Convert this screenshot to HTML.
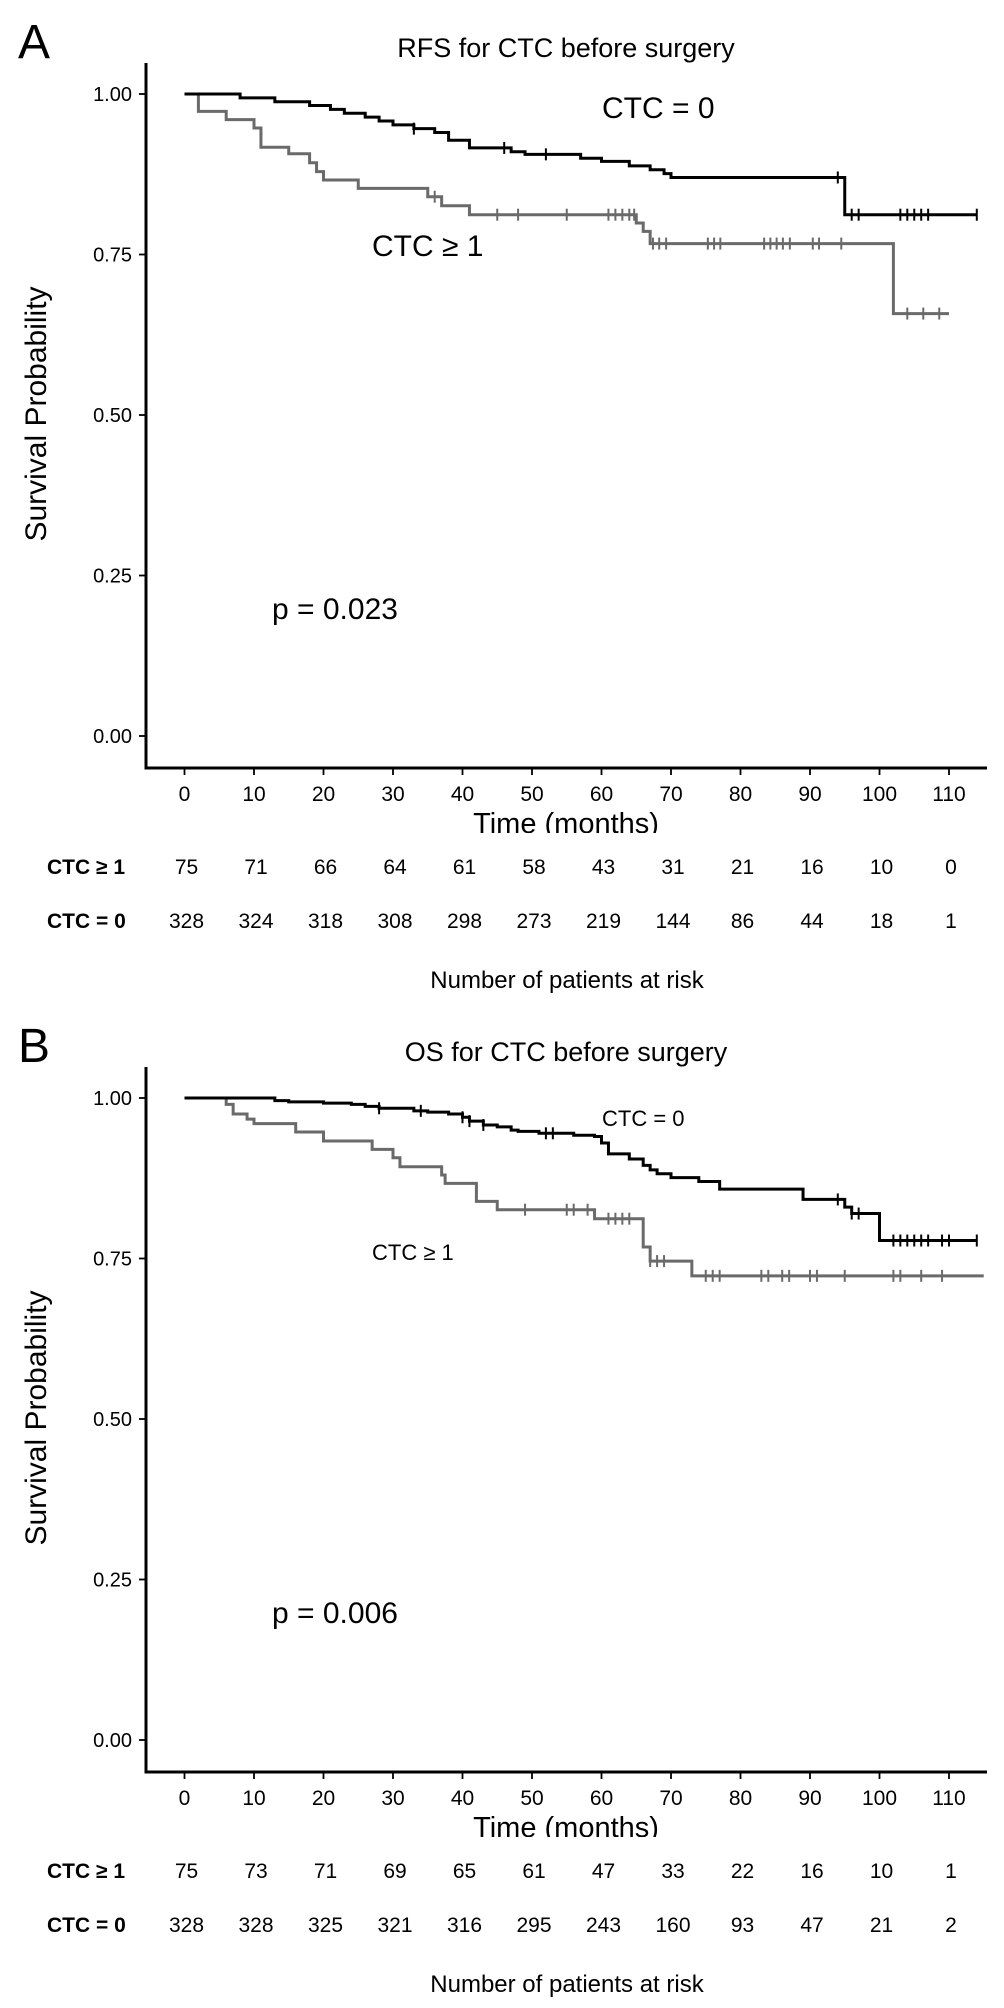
<!DOCTYPE html>
<html><head><meta charset="utf-8"><style>
html,body{margin:0;padding:0;background:#fff;}
svg{display:block;font-family:"Liberation Sans",Arial,sans-serif;}
</style></head><body>
<svg id="fig" width="1004" height="2008" viewBox="0 0 1004 2008" xmlns="http://www.w3.org/2000/svg"></svg>
<script>
// ---- data ----
const timeTicks = [0,10,20,30,40,50,60,70,80,90,100,110];
const probTicks = [0,0.25,0.5,0.75,1];
const probTickLabels = ["0.00","0.25","0.50","0.75","1.00"];

const rfsCtc0Times = [0,8,13,18,21,23,26,28,30,33,36,38,41,47,49,57,60,64,67,69,70,95,114];
const rfsCtc0Surv  = [1,0.994,0.988,0.982,0.976,0.970,0.964,0.958,0.952,0.946,0.940,0.928,0.916,0.910,0.906,0.900,0.895,0.888,0.882,0.876,0.870,0.812,0.812];
const rfsCtc0Censor = [33,46,52,94,96,97,103,104,105,106,107,114];
const rfsCtc1Times = [0,2,6,10,11,15,18,19,20,25,35,37,41,65,66,67,102,110];
const rfsCtc1Surv  = [1,0.973,0.960,0.947,0.917,0.907,0.893,0.879,0.866,0.853,0.840,0.826,0.812,0.799,0.786,0.767,0.658,0.658];
const rfsCtc1Censor = [36,45,48,55,61,62,63,64,64.7,67.4,68.3,69.3,75.3,76.2,77.1,83.4,84.3,85.2,86.1,87.1,90.4,91.3,94.5,104,106.3,108.6];
const rfsRisk1 = [75,71,66,64,61,58,43,31,21,16,10,0];
const rfsRisk0 = [328,324,318,308,298,273,219,144,86,44,18,1];

const osCtc0Times = [0,13,15,20,24,26,28,33,35,38,40,41,43,45,47,48,51,56,59,60,61,64,66,67,68,70,74,77,89,95,96,100,114];
const osCtc0Surv  = [1,0.996,0.994,0.992,0.990,0.987,0.984,0.980,0.978,0.975,0.970,0.964,0.958,0.955,0.950,0.948,0.945,0.942,0.940,0.930,0.913,0.905,0.895,0.888,0.882,0.876,0.870,0.858,0.842,0.830,0.820,0.778,0.778];
const osCtc0Censor = [28,34,40,41,43,52,53,94,96,97,102,103,104,105,106,107,109,110,114];
const osCtc1Times = [0,6,7,9,10,16,20,27,30,31,37,37.5,42,45,59,66,67,73,115];
const osCtc1Surv  = [1,0.990,0.975,0.967,0.960,0.947,0.933,0.920,0.907,0.893,0.880,0.867,0.839,0.826,0.812,0.768,0.746,0.723,0.723];
const osCtc1Censor = [49,55,56,58,61,62,63,64,67,68,69,75,76,77,83,84,86,87,90,91,95,102,103,106,109];
const osRisk1 = [75,73,71,69,65,61,47,33,22,16,10,1];
const osRisk0 = [328,328,325,321,316,295,243,160,93,47,21,2];

// ---- drawing ----
const NS = "http://www.w3.org/2000/svg";
const svg = document.getElementById("fig");
function mk(tag, attrs, parent){ const e=document.createElementNS(NS,tag); for(const k in attrs) e.setAttribute(k,attrs[k]); (parent||svg).appendChild(e); return e; }
const X0=184.5, XS=6.95, Y0=736, YS=642;
function xs(t){ return X0+t*XS; }
function ys(p){ return Y0-p*YS; }

function stepPath(times, surv, oy){
  let d="M"+xs(times[0])+","+(ys(surv[0])+oy);
  for(let i=1;i<times.length;i++){
    d+=" H"+xs(times[i])+" V"+(ys(surv[i])+oy);
  }
  return d;
}
function survAt(times, surv, t){
  let s=surv[0];
  for(let i=0;i<times.length;i++){ if(times[i]<=t) s=surv[i]; }
  return s;
}

function panel(cfg){
  const oy=cfg.oy;
  const g=mk("g",{});
  
  
  let t=mk("text",{x:18,y:oy+58,"font-size":48},g); t.textContent=cfg.letter;
   
  t=mk("text",{x:566,y:oy+57,"font-size":27,"text-anchor":"middle"},g); t.textContent=cfg.title;
   
  let a=mk("path",{d:`M146,${oy+63} V${oy+768} H987`,stroke:"#000","stroke-width":3,fill:"none"},g);
   
  probTicks.forEach((p,i)=>{
    const l=mk("line",{x1:139,x2:146,y1:ys(p)+oy,y2:ys(p)+oy,stroke:"#000","stroke-width":1.8},g);
     
    const tx=mk("text",{x:132,y:ys(p)+oy+7,"font-size":20,"text-anchor":"end"},g); tx.textContent=probTickLabels[i];
     
  });
  timeTicks.forEach((tt,i)=>{
    const l=mk("line",{x1:xs(tt),x2:xs(tt),y1:oy+768,y2:oy+775,stroke:"#000","stroke-width":1.8},g);
     
    const tx=mk("text",{x:xs(tt),y:oy+801,"font-size":21,"text-anchor":"middle"},g); tx.textContent=String(tt);
     
    const r1=mk("text",{x:xs(tt)+2,y:oy+874,"font-size":21,"text-anchor":"middle"},g); r1.textContent=String(cfg.risk1[i]);
     
    const r0=mk("text",{x:xs(tt)+2,y:oy+928,"font-size":21,"text-anchor":"middle"},g); r0.textContent=String(cfg.risk0[i]);
     
  });
  const cp=mk("clipPath",{id:"clip"+cfg.id},g); mk("rect",{x:0,y:oy+790,width:1004,height:43},cp);
  t=mk("text",{x:566,y:oy+833,"font-size":29,"text-anchor":"middle","clip-path":`url(#clip${cfg.id})`},g); t.textContent="Time (months)";
   
  t=mk("text",{x:0,y:0,"font-size":30,"text-anchor":"middle",transform:`translate(46,${oy+414}) rotate(-90)`},g); t.textContent="Survival Probability";
   
  t=mk("text",{x:47,y:oy+874,"font-size":21,"font-weight":"bold"},g); t.textContent="CTC \u2265 1";
   
  t=mk("text",{x:47,y:oy+928,"font-size":21,"font-weight":"bold"},g); t.textContent="CTC = 0";
   
  t=mk("text",{x:567,y:oy+988,"font-size":24,"text-anchor":"middle"},g); t.textContent="Number of patients at risk";
   
  t=mk("text",{x:272,y:oy+619,"font-size":30},g); t.textContent=cfg.p;
   
  const series=[
    {n:"ctc1",times:cfg.t1,surv:cfg.s1,cens:cfg.c1,col:"#6a6a6a"},
    {n:"ctc0",times:cfg.t0,surv:cfg.s0,cens:cfg.c0,col:"#000"}
  ];
  series.forEach(s=>{
    const p=mk("path",{d:stepPath(s.times,s.surv,oy),stroke:s.col,"stroke-width":3,fill:"none"},g);
     
    s.cens.forEach(c=>{
      const y=ys(survAt(s.times,s.surv,c))+oy;
      const l=mk("line",{x1:xs(c),x2:xs(c),y1:y-6,y2:y+6,stroke:s.col,"stroke-width":2},g);
       
    });
  });
  t=mk("text",{x:cfg.l0x,y:oy+cfg.l0y,"font-size":cfg.lfs},g); t.textContent="CTC = 0";
   
  t=mk("text",{x:372,y:oy+cfg.l1y,"font-size":cfg.lfs},g); t.textContent="CTC \u2265 1";
   
}

panel({id:"rfs",oy:0,letter:"A",title:"RFS for CTC before surgery",p:"p = 0.023",
  t0:rfsCtc0Times,s0:rfsCtc0Surv,c0:rfsCtc0Censor,t1:rfsCtc1Times,s1:rfsCtc1Surv,c1:rfsCtc1Censor,
  risk1:rfsRisk1,risk0:rfsRisk0,l0x:602,l0y:118,l1y:256,lfs:30});
panel({id:"os",oy:1004,letter:"B",title:"OS for CTC before surgery",p:"p = 0.006",
  t0:osCtc0Times,s0:osCtc0Surv,c0:osCtc0Censor,t1:osCtc1Times,s1:osCtc1Surv,c1:osCtc1Censor,
  risk1:osRisk1,risk0:osRisk0,l0x:602,l0y:122,l1y:256,lfs:22});
</script>
</body></html>
